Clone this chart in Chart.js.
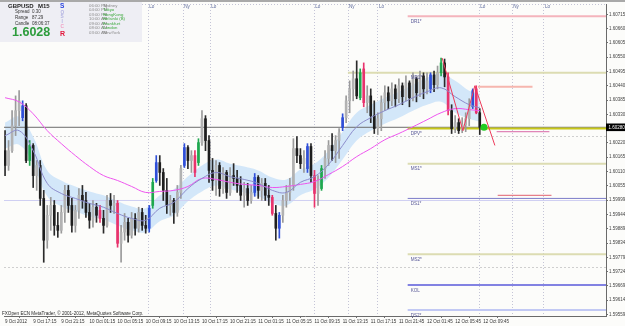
<!DOCTYPE html>
<html>
<head>
<meta charset="utf-8">
<script src="https://cdn.jsdelivr.net/npm/chart.js@4.4.1/dist/chart.umd.min.js"></script>
<style>
  html, body { margin: 0; padding: 0; background: #fcfcfa; }
  canvas { display: block; }
</style>
</head>
<body>
<canvas id="chart" width="625" height="326"></canvas>
<script>
// GBPUSD, one candle per half hour (bar index 0 = 9 Oct 13:15)
const tickLabels = ["9 Oct 2012", "9 Oct 17:15", "9 Oct 21:15", "10 Oct 01:15", "10 Oct 05:15", "10 Oct 09:15",
    "10 Oct 13:15", "10 Oct 17:15", "10 Oct 21:15", "11 Oct 01:15", "11 Oct 05:15", "11 Oct 09:15",
    "11 Oct 13:15", "11 Oct 17:15", "11 Oct 21:45", "12 Oct 01:45", "12 Oct 05:45", "12 Oct 09:45"];
const priceTicks = [1.60715, 1.60660, 1.60605, 1.60550, 1.60495, 1.60440, 1.60385, 1.60330, 1.60220, 1.60165,
    1.60110, 1.60055, 1.59999, 1.59944, 1.59889, 1.59834, 1.59779, 1.59724, 1.59669, 1.59614, 1.59559];

const open = [1.60190, 1.60133, 1.60190, 1.60286, 1.60344, 1.60317, 1.60363, 1.60152, 1.60210, 1.60094,
    1.60133, 1.60006, 1.59845, 1.59941, 1.59979, 1.59902, 1.59883, 1.59952, 1.60037, 1.59979,
    1.59902, 1.59960, 1.60018, 1.59998, 1.59952, 1.59922, 1.59972, 1.59960, 1.59929, 1.59902,
    1.59998, 1.59979, 1.59987, 1.59833, 1.59876, 1.59914, 1.59864, 1.59929, 1.59891, 1.59952,
    1.59902, 1.59891, 1.59979, 1.60075, 1.60144, 1.60106, 1.60037, 1.59979, 1.59998, 1.59952,
    1.60029, 1.60133, 1.60202, 1.60152, 1.60171, 1.60144, 1.60221, 1.60313, 1.60229, 1.60114,
    1.60075, 1.60133, 1.60044, 1.60106, 1.60029, 1.60094, 1.60083, 1.60056, 1.60018, 1.60044,
    1.59998, 1.60029, 1.60087, 1.60037, 1.60064, 1.60018, 1.60010, 1.59948, 1.59891, 1.59941,
    1.59998, 1.60029, 1.60056, 1.60198, 1.60171, 1.60140, 1.60121, 1.60206, 1.60094, 1.60025,
    1.60044, 1.60121, 1.60160, 1.60210, 1.60190, 1.60229, 1.60279, 1.60317, 1.60382, 1.60428,
    1.60467, 1.60394, 1.60505, 1.60375, 1.60401, 1.60325, 1.60275, 1.60313, 1.60375, 1.60413,
    1.60382, 1.60428, 1.60390, 1.60440, 1.60398, 1.60451, 1.60394, 1.60467, 1.60413, 1.60478,
    1.60428, 1.60428, 1.60482, 1.60444, 1.60490, 1.60528, 1.60474, 1.60344, 1.60275, 1.60298,
    1.60267, 1.60290, 1.60313, 1.60359, 1.60428, 1.60336];
const high = [1.60267, 1.60229, 1.60344, 1.60401, 1.60421, 1.60382, 1.60371, 1.60229, 1.60217, 1.60152,
    1.60152, 1.60037, 1.59979, 1.60010, 1.59998, 1.59952, 1.59979, 1.60056, 1.60056, 1.60006,
    1.59979, 1.60044, 1.60056, 1.60029, 1.59987, 1.59998, 1.59987, 1.59979, 1.59960, 1.60018,
    1.60025, 1.60018, 1.59998, 1.59902, 1.59948, 1.59929, 1.59952, 1.59948, 1.59972, 1.59968,
    1.59941, 1.59979, 1.60083, 1.60171, 1.60171, 1.60121, 1.60083, 1.60018, 1.60006, 1.60056,
    1.60133, 1.60217, 1.60210, 1.60190, 1.60190, 1.60236, 1.60344, 1.60325, 1.60248, 1.60160,
    1.60152, 1.60144, 1.60125, 1.60114, 1.60125, 1.60140, 1.60114, 1.60090, 1.60068, 1.60064,
    1.60056, 1.60102, 1.60094, 1.60083, 1.60083, 1.60056, 1.60018, 1.59979, 1.59952, 1.60018,
    1.60056, 1.60083, 1.60236, 1.60244, 1.60198, 1.60190, 1.60217, 1.60217, 1.60114, 1.60094,
    1.60133, 1.60190, 1.60229, 1.60256, 1.60248, 1.60275, 1.60332, 1.60401, 1.60459, 1.60497,
    1.60536, 1.60505, 1.60528, 1.60440, 1.60428, 1.60382, 1.60336, 1.60401, 1.60440, 1.60436,
    1.60451, 1.60444, 1.60467, 1.60451, 1.60478, 1.60459, 1.60490, 1.60474, 1.60497, 1.60490,
    1.60490, 1.60490, 1.60497, 1.60516, 1.60547, 1.60543, 1.60490, 1.60367, 1.60325, 1.60313,
    1.60317, 1.60336, 1.60390, 1.60428, 1.60440, 1.60352];
const low = [1.60094, 1.60114, 1.60183, 1.60248, 1.60286, 1.60305, 1.60144, 1.60133, 1.60048, 1.60037,
    1.59979, 1.59760, 1.59814, 1.59883, 1.59864, 1.59856, 1.59872, 1.59914, 1.59952, 1.59876,
    1.59876, 1.59929, 1.59968, 1.59933, 1.59891, 1.59895, 1.59914, 1.59914, 1.59872, 1.59895,
    1.59952, 1.59948, 1.59818, 1.59760, 1.59845, 1.59837, 1.59853, 1.59864, 1.59876, 1.59883,
    1.59872, 1.59876, 1.59968, 1.60068, 1.60056, 1.59998, 1.59948, 1.59941, 1.59910, 1.59937,
    1.60006, 1.60125, 1.60121, 1.60106, 1.60090, 1.60133, 1.60210, 1.60190, 1.60068, 1.60037,
    1.60018, 1.60014, 1.60025, 1.60006, 1.60018, 1.60056, 1.60029, 1.59998, 1.59972, 1.59979,
    1.59987, 1.60014, 1.60006, 1.59998, 1.59998, 1.59979, 1.59941, 1.59845, 1.59853, 1.59914,
    1.59972, 1.59998, 1.60037, 1.60144, 1.60121, 1.60106, 1.60106, 1.60068, 1.59972, 1.59979,
    1.60037, 1.60083, 1.60133, 1.60152, 1.60144, 1.60160, 1.60267, 1.60298, 1.60336, 1.60382,
    1.60390, 1.60386, 1.60359, 1.60336, 1.60298, 1.60256, 1.60252, 1.60267, 1.60344, 1.60352,
    1.60363, 1.60359, 1.60375, 1.60367, 1.60382, 1.60359, 1.60382, 1.60378, 1.60398, 1.60390,
    1.60409, 1.60413, 1.60417, 1.60428, 1.60478, 1.60436, 1.60328, 1.60256, 1.60259, 1.60256,
    1.60259, 1.60263, 1.60286, 1.60352, 1.60332, 1.60252];
const close = [1.60133, 1.60190, 1.60286, 1.60344, 1.60382, 1.60363, 1.60152, 1.60210, 1.60094, 1.60133,
    1.60006, 1.59845, 1.59941, 1.59979, 1.59902, 1.59883, 1.59952, 1.60037, 1.59979, 1.59902,
    1.59960, 1.60018, 1.59998, 1.59952, 1.59922, 1.59972, 1.59941, 1.59929, 1.59902, 1.59998,
    1.59979, 1.59987, 1.59833, 1.59876, 1.59914, 1.59864, 1.59929, 1.59891, 1.59952, 1.59902,
    1.59891, 1.59968, 1.60068, 1.60144, 1.60106, 1.60037, 1.59979, 1.59998, 1.59952, 1.60029,
    1.60121, 1.60202, 1.60152, 1.60171, 1.60106, 1.60221, 1.60313, 1.60229, 1.60114, 1.60075,
    1.60133, 1.60044, 1.60106, 1.60029, 1.60094, 1.60083, 1.60056, 1.60018, 1.60044, 1.59998,
    1.60029, 1.60087, 1.60037, 1.60064, 1.60018, 1.60010, 1.59948, 1.59891, 1.59941, 1.59998,
    1.60029, 1.60056, 1.60198, 1.60171, 1.60140, 1.60160, 1.60206, 1.60094, 1.60025, 1.60075,
    1.60121, 1.60160, 1.60210, 1.60190, 1.60229, 1.60259, 1.60317, 1.60382, 1.60428, 1.60467,
    1.60401, 1.60490, 1.60375, 1.60401, 1.60325, 1.60275, 1.60313, 1.60375, 1.60413, 1.60382,
    1.60428, 1.60390, 1.60440, 1.60398, 1.60451, 1.60394, 1.60467, 1.60413, 1.60478, 1.60428,
    1.60459, 1.60482, 1.60444, 1.60490, 1.60528, 1.60474, 1.60344, 1.60275, 1.60298, 1.60267,
    1.60290, 1.60313, 1.60367, 1.60421, 1.60336, 1.60280];

// bars the indicator paints in colour
const blueBars = [5, 41, 43, 51, 71, 78, 86, 96, 121, 133];
const greenBars = [7, 42, 55, 90, 101, 124];
const redBars = [27, 32, 54, 76, 88, 102, 126, 134];

// moving averages and band, read every 4th bar
const maBars = [0, 4, 8, 12, 16, 20, 24, 28, 32, 36, 40, 44, 48, 52, 56, 60, 64, 68,
    72, 76, 80, 84, 88, 92, 96, 100, 104, 108, 112, 116, 120, 124, 128, 132, 135];
const maFast = [1.60248, 1.60267, 1.60190, 1.60064, 1.60025, 1.60006, 1.59987, 1.59972, 1.59948, 1.59929,
    1.59922, 1.59968, 1.59991, 1.60044, 1.60083, 1.60106, 1.60090, 1.60079, 1.60064, 1.60037,
    1.60029, 1.60068, 1.60090, 1.60137, 1.60210, 1.60282, 1.60317, 1.60344, 1.60367, 1.60394,
    1.60417, 1.60432, 1.60398, 1.60367, 1.60355];
const maSlow = [1.60394, 1.60378, 1.60332, 1.60267, 1.60217, 1.60171, 1.60129, 1.60094, 1.60075, 1.60052,
    1.60029, 1.60033, 1.60037, 1.60052, 1.60083, 1.60079, 1.60068, 1.60060, 1.60056, 1.60048,
    1.60052, 1.60060, 1.60071, 1.60098, 1.60129, 1.60167, 1.60198, 1.60232, 1.60256, 1.60282,
    1.60309, 1.60336, 1.60352, 1.60348, 1.60344];
const bandUpper = [1.60298, 1.60321, 1.60244, 1.60114, 1.60075, 1.60052, 1.60033, 1.60018, 1.59995, 1.59975,
    1.59968, 1.60018, 1.60041, 1.60090, 1.60133, 1.60156, 1.60140, 1.60129, 1.60114, 1.60087,
    1.60079, 1.60117, 1.60140, 1.60190, 1.60263, 1.60336, 1.60367, 1.60394, 1.60417, 1.60444,
    1.60471, 1.60486, 1.60459, 1.60421, 1.60409];
const bandLower = [1.60198, 1.60213, 1.60137, 1.60014, 1.59975, 1.59956, 1.59937, 1.59925, 1.59902, 1.59883,
    1.59876, 1.59918, 1.59941, 1.59995, 1.60033, 1.60056, 1.60041, 1.60029, 1.60014, 1.59987,
    1.59979, 1.60018, 1.60041, 1.60087, 1.60156, 1.60229, 1.60267, 1.60294, 1.60317, 1.60344,
    1.60367, 1.60378, 1.60336, 1.60313, 1.60302];

// zigzag swing points
const zigBars = [124.3, 130.2, 133.6, 139.3];
const zigPrices = [1.60547, 1.60267, 1.60440, 1.60210];

// pivot levels for 12 Oct
const levelNames = ["DR1*", "MR1*", "DPV*", "MS1*", "DS1*", "MS2*", "KOL", "DS2*"];
const levelPrices = [1.60708, 1.60490, 1.60275, 1.60140, 1.60006, 1.59791, 1.59672, 1.59576];
const levelFrom = [114.5, 97.5, 114.5, 114.5, 114.5, 114.5, 114.5, 114.5];

// short projected segments
const segPrices = [1.60436, 1.60263, 1.60018];
const segFrom = [134.5, 139.8, 140.1];
const segTo = [150.0, 154.8, 155.4];

const bidPrice = 1.60280;
const weeklyS1 = 1.59998;
const gridPrices = [1.60248, 1.59741];

// session opens / closes
const sessionBars = [40.6, 50.5, 58.2, 87.8, 97.4, 105.9, 134.7, 144.1, 153.1];
const sessionNames = ["Lo", "Ny", "Lo", "Lo", "Ny", "Lo", "Lo", "Ny", "Lo"];

const sessionRows = [
    ["06:00 PM", "Sydney", false], ["04:00 PM", "Tokyo", true], ["03:00 PM", "HongKong", true],
    ["10:00 AM", "Helsinki (B)", true], ["09:00 AM", "Frankfurt", true], ["08:00 AM", "London", true],
    ["03:00 AM", "NewYork", false]];

const X_MIN = -0.3;
const X_MAX = 170.9;
const FONT = '"Liberation Sans", Arial, sans-serif';

const levelColors = ["#f4b4bc", "#dcdcb2", "#c8c818", "#dcdcb2", "#7c7cc8", "#dcdcb2", "#8282e2", "#c2c9f4"];
const levelWidths = [2, 2, 2, 2, 1, 2, 2, 2];
const segColors = ["#f6b6ae", "#d868a8", "#e0606e"];
const segWidths = [2, 1, 1];

function kindOf(i) {
    if (blueBars.includes(i)) return "blue";
    if (greenBars.includes(i)) return "green";
    if (redBars.includes(i)) return "red";
    return close[i] >= open[i] ? "up" : "down";
}
const bodyColor = { blue: "#2f4fd8", green: "#1fa84f", red: "#e8336d", up: "#b2b2b2", down: "#1e1e1e" };
const wickColor = { blue: "#2f4fd8", green: "#1fa84f", red: "#e8336d", up: "#9a9a9a", down: "#2a2a2a" };
const kinds = close.map((c, i) => kindOf(i));

const datasets = [];

datasets.push({
    type: "line", data: maBars.map((b, k) => ({ x: b, y: bandUpper[k] })),
    borderWidth: 0, borderColor: "rgba(0,0,0,0)", pointRadius: 0, tension: 0.4,
    fill: "+1", backgroundColor: "#d3e7f9", order: 30
});
datasets.push({
    type: "line", data: maBars.map((b, k) => ({ x: b, y: bandLower[k] })),
    borderWidth: 0, borderColor: "rgba(0,0,0,0)", pointRadius: 0, tension: 0.4,
    fill: false, order: 30
});

datasets.push({
    type: "line", data: [{ x: X_MIN, y: weeklyS1 }, { x: X_MAX, y: weeklyS1 }],
    borderColor: "#cfcff2", borderWidth: 1, pointRadius: 0, order: 25
});
datasets.push({
    type: "line", data: [{ x: X_MIN, y: bidPrice }, { x: X_MAX, y: bidPrice }],
    borderColor: "#6c6c6c", borderWidth: 1, pointRadius: 0, order: 24
});

levelNames.forEach((name, k) => {
    datasets.push({
        type: "line", data: [{ x: levelFrom[k], y: levelPrices[k] }, { x: X_MAX, y: levelPrices[k] }],
        borderColor: levelColors[k], borderWidth: levelWidths[k], pointRadius: 0, order: 20
    });
});
segPrices.forEach((p, k) => {
    datasets.push({
        type: "line", data: [{ x: segFrom[k], y: p }, { x: segTo[k], y: p }],
        borderColor: segColors[k], borderWidth: segWidths[k], pointRadius: 0, order: 20
    });
});

datasets.push({
    type: "bar", data: close.map((c, i) => ({ x: i, y: [low[i], high[i]] })),
    backgroundColor: kinds.map(k => wickColor[k]), barThickness: 1, grouped: false, order: 11
});
datasets.push({
    type: "bar", data: close.map((c, i) => ({ x: i, y: [open[i], c] })),
    backgroundColor: kinds.map(k => bodyColor[k]), barThickness: 2, minBarLength: 1, grouped: false, order: 10
});

datasets.push({
    type: "line", data: maBars.map((b, k) => ({ x: b, y: maSlow[k] })),
    borderColor: "#ee55ee", borderWidth: 1, pointRadius: 0, tension: 0.4, order: 4
});
datasets.push({
    type: "line", data: maBars.map((b, k) => ({ x: b, y: maFast[k] })),
    borderColor: "#8c8ccc", borderWidth: 1, pointRadius: 0, tension: 0.4, order: 3
});
datasets.push({
    type: "line", data: zigBars.map((b, k) => ({ x: b, y: zigPrices[k] })),
    borderColor: "#ee3a5a", borderWidth: 1, pointRadius: 0, order: 2
});
datasets.push({
    type: "scatter", data: [{ x: 136.2, y: bidPrice }],
    pointRadius: 3.5, pointBackgroundColor: "#22cc22", pointBorderWidth: 0, order: 1
});

function hline(ctx, x1, x2, y) {
    ctx.beginPath(); ctx.moveTo(x1, y); ctx.lineTo(x2, y); ctx.stroke();
}
function vline(ctx, x, y1, y2) {
    ctx.beginPath(); ctx.moveTo(x, y1); ctx.lineTo(x, y2); ctx.stroke();
}

const decorations = {
    id: "decorations",
    beforeDatasetsDraw(chart) {
        const { ctx, chartArea: a, scales: { x, y } } = chart;
        ctx.save();
        ctx.lineWidth = 1;
        ctx.setLineDash([2, 2]);
        ctx.strokeStyle = "#cfcfcf";
        gridPrices.forEach(p => hline(ctx, a.left, a.right, Math.round(y.getPixelForValue(p)) + 0.5));
        ctx.strokeStyle = "#c4c4d6";
        ctx.setLineDash([1, 2]);
        sessionBars.forEach(b => vline(ctx, Math.round(x.getPixelForValue(b)) + 0.5, a.top, a.bottom));
        hline(ctx, a.left, a.right, 4.5);
        ctx.restore();
    },
    afterDraw(chart) {
        const { ctx, chartArea: a, scales: { x, y } } = chart;
        ctx.save();
        ctx.textAlign = "left";
        ctx.textBaseline = "alphabetic";

        // frame
        ctx.fillStyle = "#a9a9a9";
        ctx.fillRect(0, 0, chart.width, 2);

        // level names
        ctx.font = "4.6px " + FONT;
        ctx.fillStyle = "#5a5a98";
        levelNames.forEach((name, k) => {
            const px = x.getPixelForValue(114.5) + 3;
            const py = y.getPixelForValue(levelPrices[k]) + 6.5;
            ctx.fillText(name, px, py);
        });

        // session names
        ctx.fillStyle = "#5c6a9c";
        sessionBars.forEach((b, k) => ctx.fillText(sessionNames[k], x.getPixelForValue(b) + 1.5, 7.5));

        // info panel
        ctx.fillStyle = "#eeeef4";
        ctx.fillRect(0, 2, 142, 40);
        ctx.fillStyle = "#1c1c1c";
        ctx.font = "bold 6px " + FONT;
        ctx.fillText("GBPUSD", 8, 7.5);
        ctx.fillText("M15", 38, 7.5);
        ctx.font = "4.5px " + FONT;
        ctx.fillStyle = "#333";
        [["Spread", "0.30", 13.3], ["Range", "87.29", 19], ["Candle", "08:06:37", 25.4]].forEach(r => {
            ctx.fillText(r[0], 15, r[2]);
            ctx.fillText(r[1], 32, r[2]);
        });
        ctx.font = "bold 12.5px " + FONT;
        ctx.fillStyle = "#2c9c3c";
        ctx.fillText("1.6028", 12, 36);

        ctx.font = "bold 6.5px " + FONT;
        ctx.fillStyle = "#2a44e0";
        ctx.fillText("S", 60, 8);
        ctx.font = "bold 4.8px " + FONT;
        ctx.fillStyle = "#b4b4e2";
        ctx.fillText("O", 60.5, 13.5);
        ctx.fillText("S", 60.5, 18);
        ctx.fillText("I", 61.5, 22.5);
        ctx.fillStyle = "#f0a0c4";
        ctx.fillText("C", 60.5, 27.5);
        ctx.font = "bold 7px " + FONT;
        ctx.fillStyle = "#e2183c";
        ctx.fillText("R", 60, 35.5);

        ctx.font = "4.3px " + FONT;
        sessionRows.forEach((r, k) => {
            const by = 6.6 + k * 4.5;
            ctx.fillStyle = "#8a8a8a";
            ctx.fillText(r[0], 89, by);
            ctx.fillStyle = r[2] ? "#3aa83a" : "#8a8a8a";
            ctx.fillText(r[1], 103, by);
        });

        // footer
        ctx.font = "4.6px " + FONT;
        ctx.fillStyle = "#2a2a2a";
        ctx.fillText("FXOpen ECN MetaTrader, \u00a9 2001-2012, MetaQuotes Software Corp.", 2, 315);

        // bid price box on the axis
        const by = y.getPixelForValue(bidPrice);
        ctx.fillStyle = "#000";
        ctx.fillRect(a.right, by - 3.8, chart.width - a.right, 7.6);
        ctx.fillStyle = "#fff";
        ctx.font = "4.5px " + FONT;
        ctx.fillText(bidPrice.toFixed(5), a.right + 2.5, by + 1.7);
        ctx.restore();
    }
};

new Chart(document.getElementById("chart"), {
    type: "bar",
    data: { datasets },
    plugins: [decorations],
    options: {
        responsive: false,
        animation: false,
        events: [],
        layout: { padding: { top: 3, left: 0, right: 0, bottom: 0 } },
        plugins: { legend: { display: false }, tooltip: { enabled: false } },
        scales: {
            x: {
                type: "linear", min: X_MIN, max: X_MAX, offset: false,
                grid: { drawOnChartArea: false, drawTicks: true, tickLength: 2, color: "#707070" },
                border: { display: true, color: "#6a6a6a" },
                afterBuildTicks: s => { s.ticks = tickLabels.map((t, k) => ({ value: k * 8 })); },
                afterFit: s => { s.height = 10; },
                ticks: {
                    autoSkip: false, maxRotation: 0, align: "start", padding: 1,
                    color: "#333", font: { family: FONT, size: 4.5 },
                    callback: (v, i) => tickLabels[i]
                }
            },
            y: {
                type: "linear", position: "right", min: 1.59553, max: 1.60755, beginAtZero: false,
                grid: { drawOnChartArea: false, drawTicks: true, tickLength: 2, color: "#707070" },
                border: { display: true, color: "#6a6a6a" },
                afterBuildTicks: s => { s.ticks = priceTicks.map(v => ({ value: v })); },
                afterFit: s => { s.width = 19; },
                ticks: {
                    padding: 1, color: "#444", font: { family: FONT, size: 4.5 },
                    callback: v => v.toFixed(5)
                }
            }
        }
    }
});
</script>
</body>
</html>
